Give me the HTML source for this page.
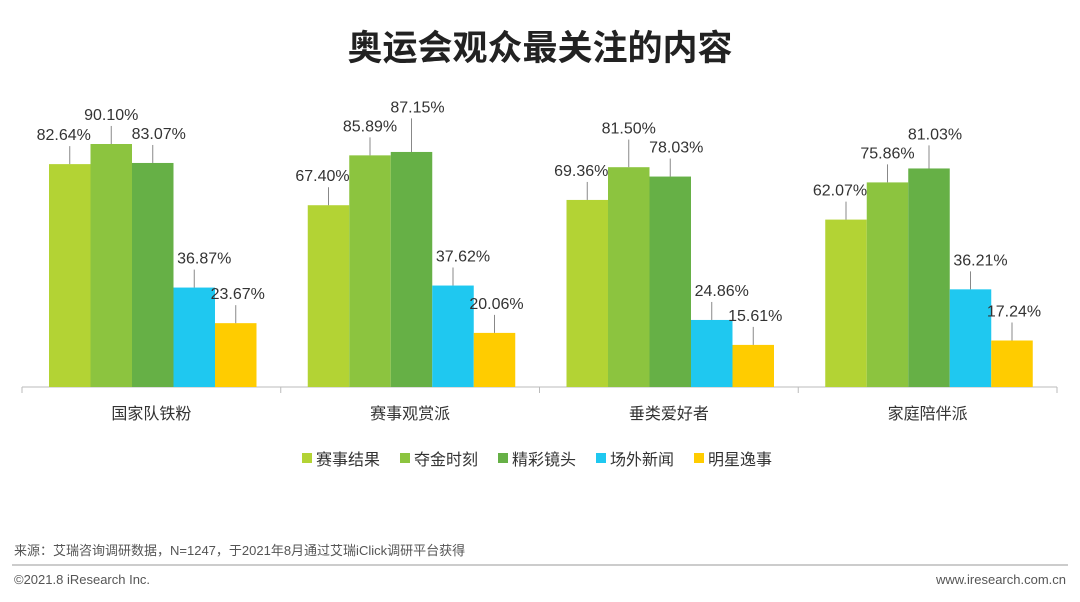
<!DOCTYPE html>
<html><head><meta charset="utf-8">
<style>
body{margin:0;background:#fff;}
svg text{font-family:"Liberation Sans","Noto Sans CJK SC",sans-serif;}
</style></head>
<body>
<svg id="chart" width="1080" height="597" xmlns="http://www.w3.org/2000/svg">
<text x="540" y="60" text-anchor="middle" font-size="35" font-weight="bold" fill="#222">奥运会观众最关注的内容</text>
<line x1="22" y1="387" x2="1057" y2="387" stroke="#bbb" stroke-width="1"/>
<g id="bars"></g>
<g id="legend"></g>
<text x="14" y="555" font-size="13" fill="#555">来源：艾瑞咨询调研数据，N=1247，于2021年8月通过艾瑞iClick调研平台获得</text>
<line x1="12" y1="565" x2="1068" y2="565" stroke="#999" stroke-width="1"/>
<text x="14" y="584" font-size="13" fill="#555">©2021.8 iResearch Inc.</text>
<text x="1066" y="584" text-anchor="end" font-size="13" fill="#555">www.iresearch.com.cn</text>
</svg>
<script>
const categories=["国家队铁粉","赛事观赏派","垂类爱好者","家庭陪伴派"];
const seriesNames=["赛事结果","夺金时刻","精彩镜头","场外新闻","明星逸事"];
const s1=[82.64,67.40,69.36,62.07];
const s2=[90.10,85.89,81.50,75.86];
const s3=[83.07,87.15,78.03,81.03];
const s4=[36.87,37.62,24.86,36.21];
const s5=[23.67,20.06,15.61,17.24];
const series=[s1,s2,s3,s4,s5];
const colors=["#b3d334","#8cc43f","#66b046","#1fc8f0","#ffcc00"];
const NS="http://www.w3.org/2000/svg";
const base=387, scale=2.697, left=22, gw=258.75, pad=27, bw=41.5;
const dx=[-6,0,6,10,2];
const y=v=>base-v*scale;
const x=(g,s)=>left+g*gw+pad+s*bw;
const gB=document.getElementById('bars');
function mk(t,a){const e=document.createElementNS(NS,t);for(const k in a)e.setAttribute(k,a[k]);return e;}
for(let g=0;g<categories.length;g++){
  const ly=series.map(sr=>y(sr[g])-24);
  // raise the tallest of the first three (green) labels to avoid overlap
  let m=0;for(let s=1;s<3;s++)if(series[s][g]>series[m][g])m=s;
  const nb=[m-1,m+1].filter(i=>i>=0&&i<3);
  for(const i of nb)ly[m]=Math.min(ly[m],ly[i]-19);
  for(let s=0;s<series.length;s++){
    const v=series[s][g];
    const r=mk('rect',{x:x(g,s),y:y(v),width:bw,height:base-y(v),fill:colors[s]});
    
    
    gB.appendChild(r);
    const cx=x(g,s)+bw/2;
    const l=mk('line',{x1:cx,y1:ly[s]+6,x2:cx,y2:y(v),stroke:'#888','stroke-width':1});
    
    
    gB.appendChild(l);
    const t=mk('text',{x:cx+dx[s],y:ly[s],'text-anchor':'middle','font-size':16,fill:'#333'});
    t.textContent=v.toFixed(2)+'%';
    
    
    gB.appendChild(t);
  }
  const c=mk('text',{x:left+g*gw+gw/2,y:419,'text-anchor':'middle','font-size':16,fill:'#333'});
  c.textContent=categories[g];
  
  
  gB.appendChild(c);
}
for(let g=0;g<=categories.length;g++){
  const tk=mk('line',{x1:left+g*gw,y1:387,x2:left+g*gw,y2:393,stroke:'#bbb','stroke-width':1});
  
  
  gB.appendChild(tk);
}
const gL=document.getElementById('legend');
let cur=302;
for(let s=0;s<seriesNames.length;s++){
  const sq=mk('rect',{x:cur,y:453,width:10,height:10,fill:colors[s]});
  
  
  gL.appendChild(sq);
  const t=mk('text',{x:cur+14,y:465,'font-size':16,fill:'#333'});
  t.textContent=seriesNames[s];
  
  
  gL.appendChild(t);
  cur+=98;
}
</script>
</body></html>
